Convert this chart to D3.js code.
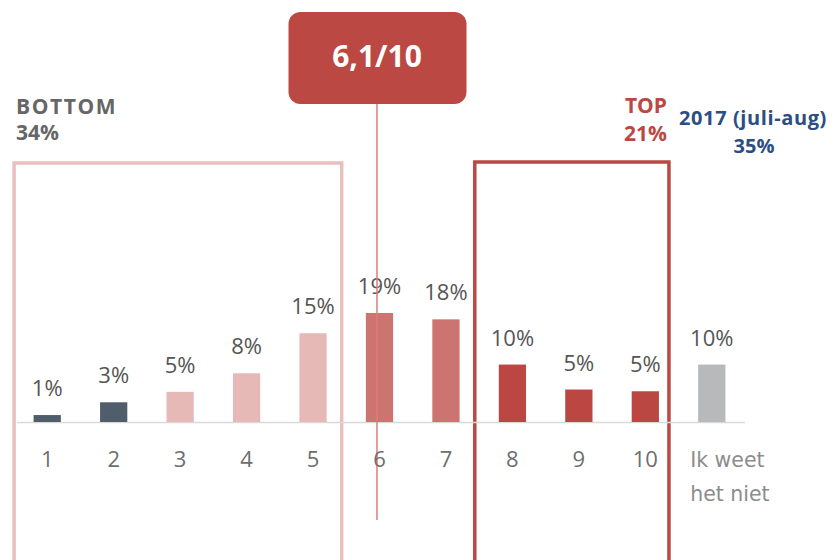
<!DOCTYPE html>
<html>
<head>
<meta charset="utf-8">
<script src="https://cdn.jsdelivr.net/npm/d3@7"></script>
<style>
  html, body { margin: 0; padding: 0; background: #fff; }
  svg { display: block; }
</style>
</head>
<body>
<svg id="chart" width="834" height="560"></svg>
<script>
// ---- data ----
const categories = ["1", "2", "3", "4", "5", "6", "7", "8", "9", "10", "Ik weet het niet"];
const values = [1.2, 3.4, 5.2, 8.4, 15.3, 18.8, 17.7, 9.9, 5.6, 5.3, 9.9];
const valueLabels = ["1%", "3%", "5%", "8%", "15%", "19%", "18%", "10%", "5%", "5%", "10%"];
const groups = ["low", "low", "bottom", "bottom", "bottom", "mid", "mid", "top", "top", "top", "dk"];
const tickLines = { "Ik weet het niet": ["Ik weet", "het niet"] };
const bottomGroup = { label: "BOTTOM", value: "34%", from: "1", to: "5" };
const topGroup = { label: "TOP", value: "21%", from: "8", to: "10" };
const prevYear = { label: "2017 (juli-aug)", value: "35%" };
const average = { label: "6,1/10", category: "6" };

// ---- styling ----
const colorOf = {
  low: "#505e6b",
  bottom: "#e6b9b7",
  mid: "#cc7570",
  top: "#ba4742",
  dk: "#b8b9bb"
};
const red = "#bc4843";
const pink = "#e9bfbf";
const blue = "#2b4e83";

const svg = d3.select("#chart");

const x = d3.scaleBand()
  .domain(categories)
  .range([14, 745])
  .paddingInner(0.59)
  .paddingOuter(0.295);

const baseY = 422;
const y = d3.scaleLinear().domain([0, 20]).range([baseY, baseY - 116]);
const bw = x.bandwidth();

// group boxes
const bottomLeft = x(bottomGroup.from) - 19.5;
const bottomRight = x(bottomGroup.to) + bw + 15;
svg.append("rect")
  .attr("x", bottomLeft).attr("y", 163)
  .attr("width", bottomRight - bottomLeft).attr("height", 500)
  .attr("fill", "none").attr("stroke", pink).attr("stroke-width", 3.5);

const topLeft = x(topGroup.from) - 24;
const topRight = x(topGroup.to) + bw + 10;
svg.append("rect")
  .attr("x", topLeft).attr("y", 162)
  .attr("width", topRight - topLeft).attr("height", 500)
  .attr("fill", "none").attr("stroke", red).attr("stroke-width", 3.5);

// axis baseline
svg.append("line")
  .attr("x1", 17).attr("x2", 745)
  .attr("y1", baseY + 0.5).attr("y2", baseY + 0.5)
  .attr("stroke", "#d9d9d9").attr("stroke-width", 1.5);

// bars
svg.selectAll("rect.bar")
  .data(categories)
  .join("rect")
  .attr("class", "bar")
  .attr("x", d => x(d))
  .attr("width", bw)
  .attr("y", (d, i) => y(values[i]))
  .attr("height", (d, i) => baseY - y(values[i]))
  .attr("fill", (d, i) => colorOf[groups[i]]);

// value labels
svg.selectAll("text.val")
  .data(categories)
  .join("text")
  .attr("class", "val")
  .attr("x", d => x(d) + bw / 2)
  .attr("y", (d, i) => y(values[i]) - 19)
  .attr("text-anchor", "middle")
  .attr("font-family", "'Open Sans', sans-serif")
  .attr("font-size", 22)
  .attr("fill", "#555")
  .text((d, i) => valueLabels[i]);

// average line
const avgX = x(average.category) + bw / 2 - 2.5;
svg.append("line")
  .attr("x1", avgX).attr("x2", avgX)
  .attr("y1", 100).attr("y2", 520)
  .attr("stroke", "#e07b79").attr("stroke-width", 1.5);

// tick labels
categories.forEach(c => {
  if (tickLines[c]) {
    const t = svg.append("text")
      .attr("x", x(c) - 8)
      .attr("y", 467)
      .attr("font-family", "'DejaVu Sans', sans-serif")
      .attr("font-size", 20.5)
      .attr("fill", "#8c8c8c");
    tickLines[c].forEach((ln, k) => {
      t.append("tspan").attr("x", x(c) - 8).attr("dy", k === 0 ? 0 : 34).text(ln);
    });
  } else {
    svg.append("text")
      .attr("x", x(c) + bw / 2)
      .attr("y", 467)
      .attr("text-anchor", "middle")
      .attr("font-family", "'Open Sans', sans-serif")
      .attr("font-size", 22)
      .attr("fill", "#6e6e6e")
      .text(c);
  }
});

// average badge
const boxW = 178, boxH = 92;
svg.append("rect")
  .attr("x", avgX - boxW / 2 + 0.5).attr("y", 12)
  .attr("width", boxW).attr("height", boxH)
  .attr("rx", 12).attr("fill", red);
svg.append("text")
  .attr("x", avgX).attr("y", 67)
  .attr("text-anchor", "middle")
  .attr("font-family", "'Open Sans', sans-serif")
  .attr("font-weight", 700)
  .attr("font-size", 30)
  .attr("fill", "#fff")
  .text(average.label);

// BOTTOM label
svg.append("text")
  .attr("x", 16).attr("y", 114)
  .attr("font-family", "'Open Sans', sans-serif").attr("font-weight", 700)
  .attr("font-size", 21).attr("letter-spacing", 1.6).attr("fill", "#666")
  .text(bottomGroup.label);
svg.append("text")
  .attr("x", 16).attr("y", 140)
  .attr("font-family", "'Open Sans', sans-serif").attr("font-weight", 700)
  .attr("font-size", 21).attr("fill", "#666")
  .text(bottomGroup.value);

// TOP label
svg.append("text")
  .attr("x", 667).attr("y", 113)
  .attr("text-anchor", "end")
  .attr("font-family", "'Open Sans', sans-serif").attr("font-weight", 700)
  .attr("font-size", 21).attr("fill", red)
  .text(topGroup.label);
svg.append("text")
  .attr("x", 667).attr("y", 141)
  .attr("text-anchor", "end")
  .attr("font-family", "'Open Sans', sans-serif").attr("font-weight", 700)
  .attr("font-size", 21).attr("fill", red)
  .text(topGroup.value);

// previous year
svg.append("text")
  .attr("x", 753).attr("y", 125)
  .attr("text-anchor", "middle")
  .attr("font-family", "'Open Sans', sans-serif").attr("font-weight", 700)
  .attr("font-size", 20).attr("letter-spacing", 0.6).attr("fill", blue)
  .text(prevYear.label);
svg.append("text")
  .attr("x", 754).attr("y", 153)
  .attr("text-anchor", "middle")
  .attr("font-family", "'Open Sans', sans-serif").attr("font-weight", 700)
  .attr("font-size", 20).attr("fill", blue)
  .text(prevYear.value);
</script>
</body>
</html>
